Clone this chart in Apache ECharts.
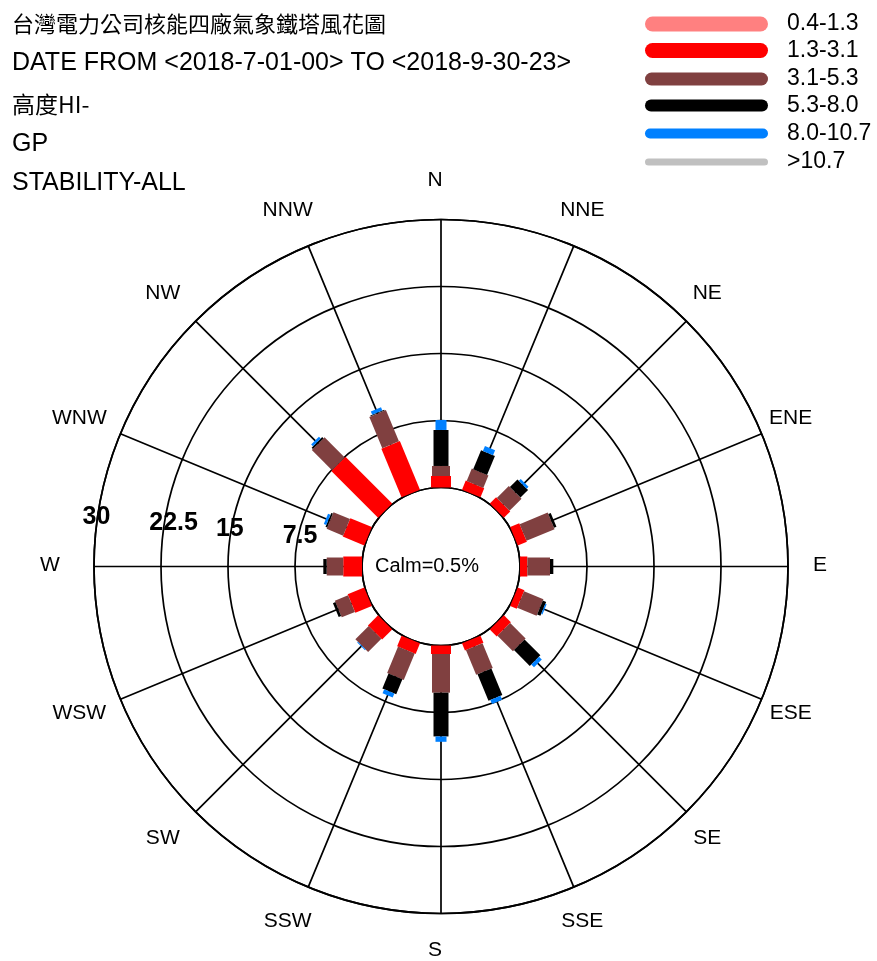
<!DOCTYPE html>
<html>
<head>
<meta charset="utf-8">
<script src="https://cdn.jsdelivr.net/npm/echarts@6/dist/echarts.min.js"></script>
<style>
html,body{margin:0;padding:0;background:#fff;}
#chart{width:877px;height:961px;}
</style>
</head>
<body>
<div id="chart"></div>
<script>
// ---- data ----
const titleLines = ['台灣電力公司核能四廠氣象鐵塔風花圖', 'DATE FROM <2018-7-01-00> TO <2018-9-30-23>', '高度HI-', 'GP', 'STABILITY-ALL'];
const directions = ['N','NNE','NE','ENE','E','ESE','SE','SSE','S','SSW','SW','WSW','W','WNW','NW','NNW'];
const speedClasses = ['0.4-1.3','1.3-3.1','3.1-5.3','5.3-8.0','8.0-10.7','>10.7'];
const radiusTicks = [7.5, 15, 22.5, 30];
const radiusTickLabels = ['7.5', '15', '22.5', '30'];
const calmPercent = 0.5;
// frequency (%) per direction for each speed class
const v04_13  = [0,0,0,0,0,0,0,0,0,0,0,0,0,0,0,0];
const v13_31  = [1.29,1.1,1.0,1.1,0.82,0.8,1.1,0.87,0.95,1.28,1.6,2.0,2.1,2.6,7.4,5.9];
const v31_53  = [1.12,1.5,1.9,3.4,2.54,2.35,2.45,3.0,4.33,3.2,2.1,1.6,1.85,2.0,3.2,3.8];
const v53_80  = [4.03,2.3,1.2,0.3,0.37,0.4,2.5,3.2,4.9,1.8,0,0.3,0.38,0.2,0.2,0.1];
const v80_107 = [1.12,0.6,0.3,0,0,0.15,0.45,0.5,0.6,0.5,0.1,0,0,0.3,0.3,0.4];
const vGt107  = [0,0,0,0,0,0,0,0,0,0,0,0,0,0,0,0];

// ---- styles ----
const classValues = [v04_13, v13_31, v31_53, v53_80, v80_107, vGt107];
const classColors = ['#FF8080','#FF0000','#804040','#000000','#0080FF','#C0C0C0'];
const barWidths = [21, 20, 18, 15, 11, 8];
const legendThick = [15, 15, 13, 12, 10, 7];
const legendCenters = [20, 46.5, 74, 100, 127, 154];
const legendIconW = 123;
const titleCenters = [24, 63, 104, 144, 183];
const stepAngle = 360 / directions.length;
const LABEL_R = 34.25;
const LINE_W = 1.7;

// cumulative stacks
const starts = [], ends = [];
{
  const acc = directions.map(() => 0);
  classValues.forEach((vals, k) => {
    starts[k] = acc.slice();
    vals.forEach((v, i) => { acc[i] += v; });
    ends[k] = acc.slice();
  });
}

const chart = echarts.init(document.getElementById('chart'), null, {renderer: 'canvas'});

function capsulePath(w, h) {
  const r = h / 2;
  return 'path://M' + r + ',0H' + (w - r) + 'A' + r + ',' + r + ',0,0,1,' + (w - r) + ',' + h +
         'H' + r + 'A' + r + ',' + r + ',0,0,1,' + r + ',0Z';
}

const barSeries = speedClasses.map((name, k) => ({
  type: 'custom',
  name: name,
  coordinateSystem: 'polar',
  encode: {radius: [0, 1], angle: 2},
  itemStyle: {color: classColors[k]},
  data: directions.map((d, i) => [starts[k][i], ends[k][i], i * stepAngle]),
  renderItem: function (params, api) {
    const r0 = api.value(0), r1 = api.value(1), ang = api.value(2);
    if (!(r1 - r0 > 0.0001)) return null;
    const p0 = api.coord([r0, ang]);
    const p1 = api.coord([r1, ang]);
    const dx = p1[0] - p0[0], dy = p1[1] - p0[1];
    const len = Math.hypot(dx, dy) || 1;
    const w = barWidths[k] / 2;
    const nx = -dy / len * w, ny = dx / len * w;
    return {
      type: 'polygon',
      shape: {points: [[p0[0] + nx, p0[1] + ny], [p1[0] + nx, p1[1] + ny], [p1[0] - nx, p1[1] - ny], [p0[0] - nx, p0[1] - ny]]},
      style: {fill: classColors[k]}
    };
  }
}));

const dirLabelSeries = {
  type: 'custom',
  name: 'dirLabels',
  coordinateSystem: 'polar',
  silent: true,
  encode: {angle: 0},
  data: directions.map((d, i) => [i * stepAngle]),
  renderItem: function (params, api) {
    const ang = api.value(0);
    const p = api.coord([LABEL_R, ang]);
    return {
      type: 'text', x: p[0] - 6, y: p[1] - 1,
      style: {text: directions[params.dataIndex], fill: '#000', fontSize: 21, fontFamily: 'Liberation Sans, Arial, sans-serif', align: 'center', verticalAlign: 'middle'}
    };
  }
};

const radLabelSeries = {
  type: 'custom',
  name: 'radLabels',
  coordinateSystem: 'polar',
  silent: true,
  encode: {radius: 0},
  data: radiusTicks.map(v => [v]),
  renderItem: function (params, api) {
    const v = api.value(0);
    const p = api.coord([v, 275.4]);
    return {
      type: 'text', x: p[0] - 13, y: p[1] - 17,
      style: {text: radiusTickLabels[params.dataIndex], fill: '#000', fontSize: 25, fontWeight: 'bold', fontFamily: 'Liberation Sans, Arial, sans-serif', align: 'left', verticalAlign: 'middle'}
    };
  }
};

const titles = titleLines.map((t, i) => ({
  text: t, left: 12, top: titleCenters[i] - 15, padding: 0,
  textStyle: {
    fontSize: (i === 0) ? 22 : (i === 2 ? 23 : 25),
    fontWeight: 'normal',
    fontFamily: (i === 0 || i === 2) ? 'Noto Sans CJK TC, Liberation Sans, sans-serif' : 'Liberation Sans, Arial, sans-serif',
    color: '#000', lineHeight: 30
  }
}));

const legends = speedClasses.map((name, k) => ({
  show: true,
  data: [{name: name, itemStyle: {color: classColors[k]}}],
  icon: capsulePath(legendIconW, legendThick[k]),
  left: 645, top: legendCenters[k] - legendThick[k] / 2,
  padding: 0, itemWidth: legendIconW, itemHeight: legendThick[k],
  selectedMode: false,
  textStyle: {fontSize: 23, fontFamily: 'Liberation Sans, Arial, sans-serif', color: '#000', padding: [4, 0, 0, 14], lineHeight: 3}
}));

chart.setOption({
  backgroundColor: '#fff',
  animation: false,
  title: titles,
  legend: legends,
  polar: {center: [441, 566.5], radius: [79, 347]},
  angleAxis: {
    type: 'value', min: 0, max: 360, interval: stepAngle, startAngle: 90, clockwise: true,
    axisLine: {show: true, lineStyle: {color: '#000', width: LINE_W}},
    axisTick: {show: false}, axisLabel: {show: false},
    splitLine: {show: true, lineStyle: {color: '#000', width: LINE_W}}
  },
  radiusAxis: {
    type: 'value', min: 0, max: 30, interval: 7.5,
    axisLine: {show: false}, axisTick: {show: false}, axisLabel: {show: false},
    splitLine: {show: true, lineStyle: {color: '#000', width: LINE_W}}
  },
  graphic: [{
    type: 'text', x: 375, y: 566,
    style: {text: 'Calm=' + calmPercent + '%', fill: '#000', fontSize: 20, fontFamily: 'Liberation Sans, Arial, sans-serif', verticalAlign: 'middle'}
  }],
  series: barSeries.concat([dirLabelSeries, radLabelSeries])
});
</script>
</body>
</html>
